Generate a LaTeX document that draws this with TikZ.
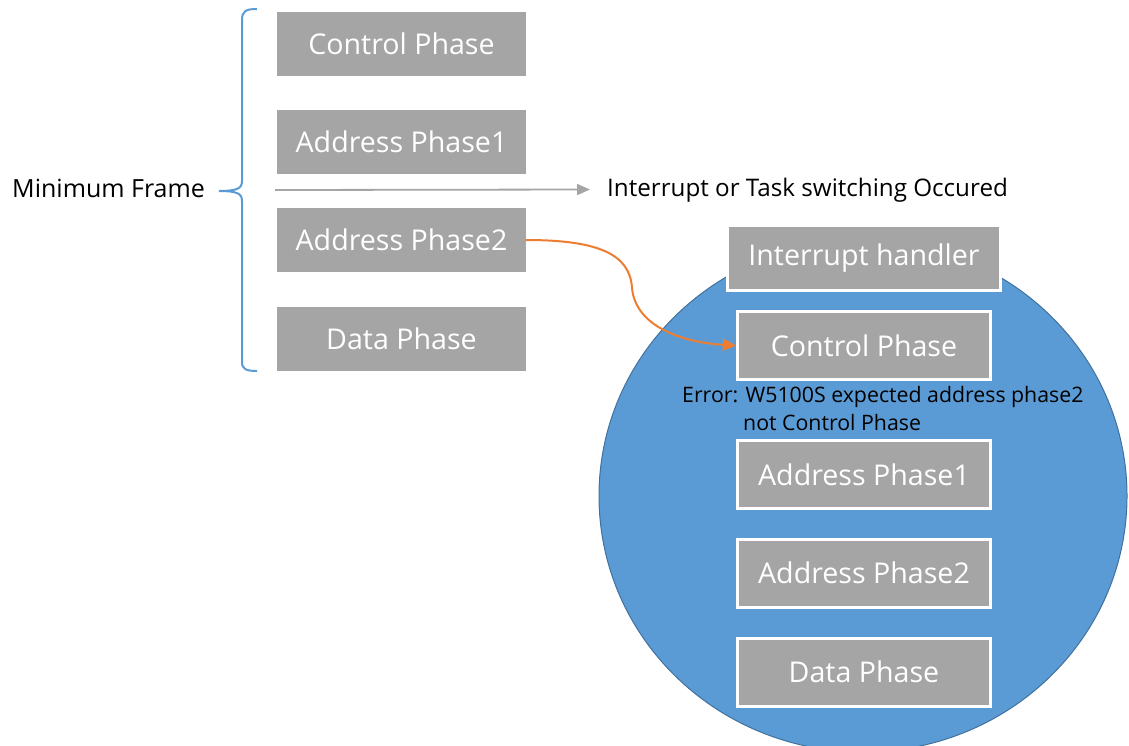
\documentclass[tikz,border=0pt]{standalone}
\usepackage{fontspec}
\setmainfont{Open Sans}
\usetikzlibrary{arrows.meta}
\definecolor{boxgray}{HTML}{A5A5A5}
\definecolor{cblue}{HTML}{5B9BD5}
\definecolor{cblueedge}{HTML}{41719C}
\definecolor{corange}{HTML}{ED7D31}
\tikzset{
  phasebox/.style={fill=boxgray, text=white, minimum width=249pt, minimum height=64pt, inner sep=0pt, font=\fontsize{28.6}{33}\selectfont},
  innerbox/.style={fill=boxgray, draw=white, line width=3pt, text=white, minimum width=253pt, minimum height=68pt, inner sep=0pt, font=\fontsize{28.6}{33}\selectfont},
  label/.style={text=black, inner sep=0pt},
}
\begin{document}
\begin{tikzpicture}[x=1pt,y=-1pt]
\useasboundingbox (0,0) rectangle (1129,745);
% circle
\fill[cblue, draw=cblueedge, line width=1pt] (863,496) ellipse [x radius=264, y radius=256];
% left boxes
\node[phasebox] (c1) at (401.5,44) {Control Phase};
\node[phasebox] (a1) at (401.5,142) {Address Phase1};
\node[phasebox] (a2) at (401.5,240) {Address Phase2};
\node[phasebox] (d1) at (401.5,339) {Data Phase};
% brace
\node[label, anchor=west, font=\fontsize{25}{29}\selectfont] (mf) at (12,188.5) {Minimum Frame};
\coordinate (bt) at (257,9);
\coordinate (bm) at (219,191);
\coordinate (bb) at (257,371);
\draw[cblue, line width=2pt] (bt) .. controls (246,9) and (242,11) .. (242,20) -- (242,181) .. controls (242,188) and (238,191) .. (bm)
  .. controls (238,191) and (242,194) .. (242,201) -- (242,362) .. controls (242,369) and (246,371) .. (bb);
% gray arrow
\node[label, anchor=west, font=\fontsize{24.2}{28}\selectfont] (intr) at (607,190.5) {Interrupt or Task switching Occured};
\coordinate (gs) at (275,190);
\draw[boxgray, line width=1.8pt, -{Triangle[length=13pt, width=11pt]}] (gs) -- (590,189.5);
% interrupt handler and inner boxes
\node[innerbox, minimum width=273pt, minimum height=65pt] (ih) at (864,258) {Interrupt handler};
\node[innerbox] (c2) at (864,345.5) {Control Phase};
\node[innerbox] (a3) at (864,474.5) {Address Phase1};
\node[innerbox] (a4) at (864,573) {Address Phase2};
\node[innerbox] (d2) at (864,672) {Data Phase};
% error text
\node[label, anchor=west, font=\fontsize{21.3}{25}\selectfont] (err1) at (682,396.5) {Error: W5100S expected address phase2};
\node[label, anchor=west, font=\fontsize{21.3}{25}\selectfont] (err2) at (743,422.5) {not Control Phase};
% orange arrow
\draw[corange, line width=2pt, -{Triangle[length=13pt, width=12pt]}] (a2.east) .. controls (600,240) and (630,255) .. (632,288)
  .. controls (636,330) and (690,343) .. (c2.west);
\end{tikzpicture}
\end{document}
